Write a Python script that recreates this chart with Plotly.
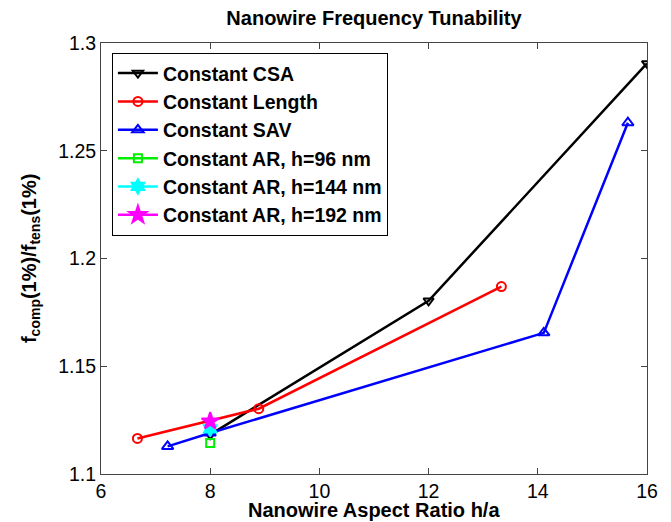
import plotly.graph_objects as go

# Data
csa_x = [8, 12, 16]
csa_y = [1.1183, 1.1804, 1.2905]

len_x = [6.667, 8.889, 13.333]
len_y = [1.1165, 1.1303, 1.1870]

sav_x = [7.22, 8.0, 14.11, 15.65]
sav_y = [1.1128, 1.1190, 1.1655, 1.2630]

ar96_x = [8]
ar96_y = [1.1144]
ar144_x = [8]
ar144_y = [1.1209]
ar192_x = [8]
ar192_y = [1.1245]

x_ticks = [6, 8, 10, 12, 14, 16]
y_ticks = [1.1, 1.15, 1.2, 1.25, 1.3]

FONT = "Liberation Sans, Arial, sans-serif"

fig = go.Figure()
series = [
    ("Constant CSA", csa_x, csa_y, "black", "triangle-down-open", 9, 2.5),
    ("Constant Length", len_x, len_y, "red", "circle-open", 9, 2.5),
    ("Constant SAV", sav_x, sav_y, "blue", "triangle-up-open", 10, 2.5),
    ("Constant AR, h=96 nm", ar96_x, ar96_y, "#00ee00", "square-open", 8, 2.5),
    ("Constant AR, h=144 nm", ar144_x, ar144_y, "cyan", "hexagram", 11, 2.5),
    ("Constant AR, h=192 nm", ar192_x, ar192_y, "magenta", "star", 13, 2.5),
]
for name, xs, ys, col, sym, size, lw in series:
    fig.add_trace(go.Scatter(
        x=xs, y=ys, name="<b>" + name + "</b>", mode="lines+markers",
        line=dict(color=col, width=lw),
        marker=dict(symbol=sym, size=size, color=col,
                    line=dict(color=col, width=2)),
    ))

# The page body adds an 8px offset, so the figure is laid out on 663x514.
fig.update_layout(
    width=663, height=514,
    margin=dict(l=93, r=24, t=35, b=48),
    paper_bgcolor="white", plot_bgcolor="white",
    font=dict(family=FONT, size=20, color="black"),
    title=dict(text="<b>Nanowire Frequency Tunability</b>", x=0.552, xanchor="center",
               y=0.98, yanchor="middle", font=dict(size=20)),
    showlegend=True,
    legend=dict(x=0.02, y=0.977, xanchor="left", yanchor="top",
                bordercolor="black", borderwidth=1, bgcolor="white",
                font=dict(size=19.5, family=FONT),
                itemwidth=40, tracegroupgap=0),
    xaxis=dict(range=[6, 16], tickvals=x_ticks, ticktext=[str(v) for v in x_ticks],
               showgrid=False, zeroline=False, showline=True, linecolor="#444",
               linewidth=1, mirror="ticks", ticks="inside", ticklen=6, tickcolor="#444",
               tickfont=dict(size=19.5), ticklabelstandoff=0),
    yaxis=dict(range=[1.1, 1.3], tickvals=y_ticks,
               ticktext=["1.1", "1.15", "1.2", "1.25", "1.3"],
               showgrid=False, zeroline=False, showline=True, linecolor="#444",
               linewidth=1, mirror="ticks", ticks="inside", ticklen=6, tickcolor="#444",
               tickfont=dict(size=19.5)),
    annotations=[
        dict(text="<b>Nanowire Aspect Ratio h/a</b>", xref="paper", yref="paper",
             x=0.5, y=-0.084, xanchor="center", yanchor="middle", showarrow=False,
             font=dict(size=20)),
        dict(text="<b>f<sub>comp</sub>(1%)/f<sub>tens</sub>(1%)</b>", xref="paper",
             yref="paper", x=-0.129, y=0.5, xanchor="center", yanchor="middle",
             textangle=-90, showarrow=False, font=dict(size=20)),
    ],
)

fig.write_html("out.html")
